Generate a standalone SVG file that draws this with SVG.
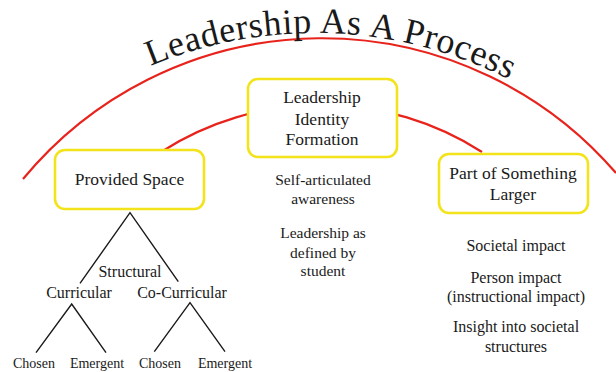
<svg xmlns="http://www.w3.org/2000/svg" width="616" height="372" viewBox="0 0 616 372">
<style>
text{font-family:"Liberation Serif","Times New Roman",serif;fill:#1a1a1a;text-anchor:middle}
.arc{fill:none;stroke:#e8231c;stroke-width:2.2}
.box{fill:#fff;stroke:#f3e31b;stroke-width:2.6}
.bt{font-size:17.5px}
.mt{font-size:15.5px}
.rt{font-size:16px}
.tt{font-size:16px}
.lt{font-size:14px}
.tree{fill:none;stroke:#1a1a1a;stroke-width:1.4}
.title{font-size:36px;text-anchor:start}
</style>
<defs>
<path id="titlePath" d="M 134.1 73.1 A 428 428 0 0 1 529 90.3"/>
</defs>
<g id="connectors">
<path class="arc" d="M 23 179 A 388 388 0 0 1 616 173"/>
<path class="arc" d="M 161 152 A 297 297 0 0 1 482 152"/>
<path class="tree" d="M 80 283.3 L 130 212.7 L 178.3 281.7"/>
<path class="tree" d="M 36 352.7 L 71.7 304 L 106 352.7"/>
<path class="tree" d="M 154.3 351.7 L 190 302.7 L 225 351.7"/>
</g>
<g id="title">
<text class="title"><textPath href="#titlePath" startOffset="18" textLength="370" lengthAdjust="spacing">Leadership As A Process</textPath></text>
</g>
<g id="node-leadership">
<rect class="box" x="248" y="79" width="149" height="78" rx="10"/>
<text class="bt" x="322" y="103.3">Leadership</text>
<text class="bt" x="322" y="125">Identity</text>
<text class="bt" x="322" y="145">Formation</text>
</g>
<g id="node-provided">
<rect class="box" x="55" y="150" width="149" height="59" rx="10"/>
<text class="bt" x="129.5" y="185">Provided Space</text>
</g>
<g id="node-larger">
<rect class="box" x="439" y="154" width="149" height="59" rx="10"/>
<text class="bt" x="513" y="179.3">Part of Something</text>
<text class="bt" x="513" y="200">Larger</text>
</g>
<g id="identity-notes">
<text class="mt" x="323" y="185">Self-articulated</text>
<text class="mt" x="323" y="204">awareness</text>
<text class="mt" x="323" y="238">Leadership as</text>
<text class="mt" x="323" y="258">defined by</text>
<text class="mt" x="323" y="276">student</text>
</g>
<g id="larger-notes">
<text class="rt" x="516" y="251">Societal impact</text>
<text class="rt" x="516" y="283">Person impact</text>
<text class="rt" x="516" y="302">(instructional impact)</text>
<text class="rt" x="516" y="332">Insight into societal</text>
<text class="rt" x="516" y="352">structures</text>
</g>
<g id="tree-structural">
<text class="tt" x="130" y="277">Structural</text>
</g>
<g id="tree-curricular">
<text class="tt" x="79" y="298.3">Curricular</text>
</g>
<g id="tree-cocurricular">
<text class="tt" x="182" y="297.7">Co-Curricular</text>
</g>
<g id="leaf-chosen-1"><text class="lt" x="34" y="368.3">Chosen</text></g>
<g id="leaf-emergent-1"><text class="lt" x="97" y="368.3">Emergent</text></g>
<g id="leaf-chosen-2"><text class="lt" x="160" y="368.3">Chosen</text></g>
<g id="leaf-emergent-2"><text class="lt" x="225" y="368.3">Emergent</text></g>
</svg>
